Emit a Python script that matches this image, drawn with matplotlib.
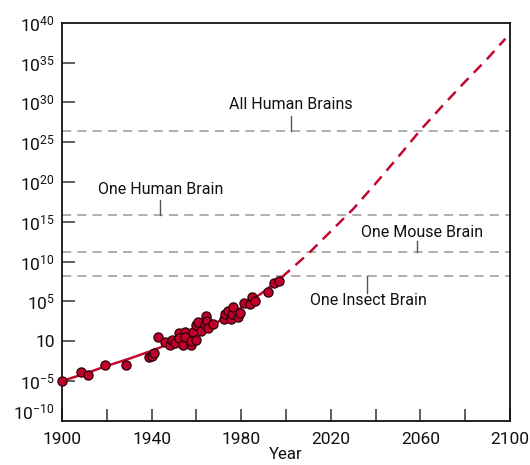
import numpy as np
import matplotlib
matplotlib.use('Agg')
import matplotlib.pyplot as plt
import matplotlib.transforms as mtransforms

plt.rcParams['font.family'] = ['Roboto', 'DejaVu Sans']
plt.rcParams['mathtext.fontset'] = 'custom'
plt.rcParams['mathtext.rm'] = 'Roboto'
plt.rcParams['mathtext.it'] = 'Roboto'

# measured machines (year, log10 of calculations per second per $1000)
years = [1900, 1908.5, 1911.7, 1919.2, 1928.5, 1938.8, 1940.4, 1941, 1943, 1945.9,
         1948.1, 1948.9, 1950.5, 1952.3, 1952.3, 1954, 1954.8, 1954.8, 1957.5, 1957.8,
         1958.5, 1959.7, 1960, 1960.7, 1961.9, 1963.7, 1964.5, 1964.7, 1965.2, 1967.4,
         1972.2, 1972.6, 1974.1, 1975.6, 1976, 1976.3, 1978.5, 1979.6, 1981.2, 1984,
         1984.9, 1986.4, 1992, 1994.6, 1996.8]
log_vals = [-5.0, -3.9, -4.2, -3.0, -3.0, -2.0, -1.9, -1.5, 0.55, -0.1,
            -0.5, 0.15, -0.2, 1.0, 0.4, -0.5, 1.1, 0.5, -0.5, 0.0,
            1.1, 2.0, 0.15, 2.45, 1.3, 2.2, 3.2, 2.6, 1.6, 2.2,
            2.75, 3.4, 3.85, 2.75, 3.4, 4.3, 3.0, 3.6, 4.85, 4.65,
            5.5, 5.1, 6.15, 7.3, 7.6]

# trend curve
trend_years = [1900, 1910, 1920, 1930, 1940, 1950, 1960, 1970, 1980, 1990, 1998]
trend_log = [-5.0, -4.1, -3.1, -2.2, -1.2, -0.1, 1.1, 2.5, 4.2, 6.2, 8.0]
proj_years = [1998, 2010, 2020, 2030, 2040, 2050, 2060, 2070, 2080, 2090, 2098]
proj_log = [8.0, 11.0, 13.8, 16.6, 19.8, 23.1, 26.5, 29.6, 32.6, 35.5, 38.0]

# brain equivalents
brain_names = ['All Human Brains', 'One Human Brain', 'One Mouse Brain', 'One Insect Brain']
brain_log = [26.4, 15.9, 11.2, 8.2]

yticks_log = [-10, -5, 0, 5, 10, 15, 20, 25, 30, 35, 40]
ytick_labels = [r'$10^{-10}$', r'$10^{-5}$', '10', r'$10^{5}$', r'$10^{10}$', r'$10^{15}$',
                r'$10^{20}$', r'$10^{25}$', r'$10^{30}$', r'$10^{35}$', r'$10^{40}$']

red = '#c10a2e'

fig = plt.figure(figsize=(5.3, 4.65), dpi=100)
ax = fig.add_axes([0.117, 0.095, 0.845, 0.856])
ax.set_yscale('log')

for lv in brain_log:
    ax.axhline(10.0 ** lv, color='#999999', lw=1.1, dashes=(6, 4), zorder=1)

ax.plot(trend_years, 10.0 ** np.array(trend_log), color=red, lw=1.8, zorder=2)
ax.plot(proj_years, 10.0 ** np.array(proj_log), color=red, lw=1.8, dashes=(4.5, 3), zorder=2)
ax.plot(years, 10.0 ** np.array(log_vals), 'o', ms=6.6, mfc='#c0002a', mec='#2a0008',
        mew=0.9, zorder=3, clip_on=False)

# labels with little leader ticks
lab_pos = [(2002.3, 29.7, 28.3), (1944, 19.0, 17.8), (2061, 13.7, 12.6), (2037, 5.1, 6.05)]
lead_x = [2002.3, 1943.6, 2058.4, 2036.2]
for name, lv, (tx, ty, lend), lx in zip(brain_names, brain_log, lab_pos, lead_x):
    ax.plot([lx, lx], [10.0 ** lv, 10.0 ** lend], color='#555555', lw=1, zorder=1)
    ax.text(tx, 10.0 ** ty, name, ha='center', va='center', fontsize=11.5, color='#111111')

ax.set_xlim(1900, 2100)
ax.set_ylim(1e-10, 1e40)
ax.set_xticks([1900, 1940, 1980, 2020, 2060, 2100])
ax.set_xticks(range(1920, 2100, 20), minor=True)
ax.set_yticks([10.0 ** v for v in yticks_log])
ax.set_yticklabels(ytick_labels)
ax.yaxis.set_minor_locator(matplotlib.ticker.NullLocator())
ax.tick_params(axis='both', which='both', direction='in', length=9, width=1.2,
               color='#444444', labelsize=12.5, labelcolor='#111111')
ax.tick_params(axis='x', pad=8)
ax.tick_params(axis='y', pad=5)
ax.set_xlabel('Year', fontsize=12, labelpad=0, color='#111111')

off = mtransforms.ScaledTranslation(0, 7 / 72, fig.dpi_scale_trans)
ytl = ax.yaxis.get_major_ticks()
ytl[0].label1.set_transform(ytl[0].label1.get_transform() + off)
ytl[0].tick1line.set_visible(False)
ytl[-1].tick1line.set_visible(False)

for s in ax.spines.values():
    s.set_linewidth(1.3)
    s.set_color('#111111')

fig.savefig('out.png', dpi=100)
